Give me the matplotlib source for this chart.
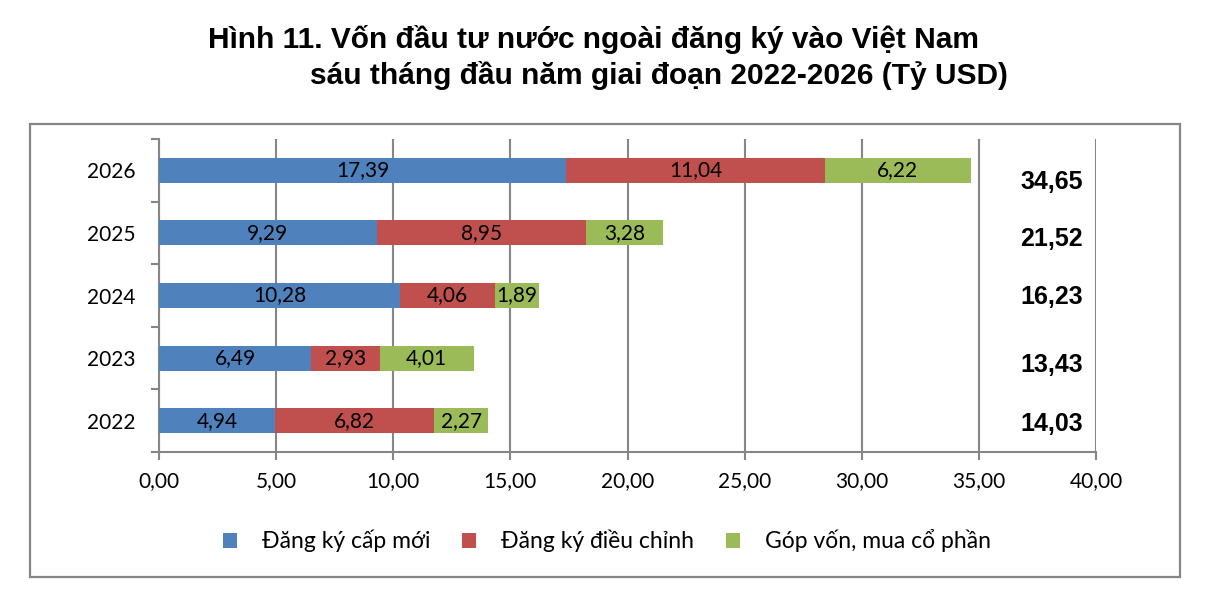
import matplotlib.pyplot as plt
from matplotlib.patches import Rectangle

# Data (Tỷ USD)
years = ['2022', '2023', '2024', '2025', '2026']
cap_moi = [4.94, 6.49, 10.28, 9.29, 17.39]
dieu_chinh = [6.82, 2.93, 4.06, 8.95, 11.04]
gop_von = [2.27, 4.01, 1.89, 3.28, 6.22]
series_names = ['Đăng ký cấp mới', 'Đăng ký điều chỉnh', 'Góp vốn, mua cổ phần']
x_ticks = [0, 5, 10, 15, 20, 25, 30, 35, 40]

colors = ['#4F81BD', '#C0504D', '#9BBB59']
# small downward shifts of the total labels (category units), as in the original
total_nudge = [0.06, 0.11, 0.02, 0.10, 0.19]

body_font = ['Lato', 'Noto Sans', 'DejaVu Sans']
bold_font = ['Liberation Sans', 'DejaVu Sans']
plt.rcParams['font.family'] = body_font


def fmt(v):
    return f'{v:.2f}'.replace('.', ',')


W, H = 1205, 591
fig = plt.figure(figsize=(W / 100, H / 100), dpi=100)
ax = fig.add_axes([159 / W, 1 - 452 / H, (1096 - 159) / W, (452 - 139) / H])

pos = list(range(len(years)))
left = [0.0] * len(years)
for vals, name, col in zip([cap_moi, dieu_chinh, gop_von], series_names, colors):
    bars = ax.barh(pos, vals, left=left, height=0.4, color=col, label=name, zorder=3)
    ax.bar_label(bars, labels=[fmt(v) for v in vals], label_type='center',
                 fontsize=15, color='black', zorder=4)
    left = [a + b for a, b in zip(left, vals)]

# totals on the right
for i, tot in enumerate(left):
    ax.text(38.1, pos[i] - total_nudge[i], fmt(tot), ha='center', va='center',
            fontsize=18, fontweight='bold', family=bold_font)

ax.set_xlim(0, 40)
ax.set_ylim(-0.5, len(years) - 0.5)
ax.set_xticks(x_ticks)
ax.set_xticklabels([fmt(t) for t in x_ticks], fontsize=15)
ax.set_yticks(pos)
ax.set_yticklabels(years, fontsize=15)
ax.set_yticks([p - 0.5 for p in pos] + [len(years) - 0.5], minor=True)

grid_col = '#868686'
ax.grid(axis='x', color=grid_col, linewidth=1.5, zorder=0)
for s in ['top', 'right']:
    ax.spines[s].set_visible(False)
for s in ['left', 'bottom']:
    ax.spines[s].set_color(grid_col)
    ax.spines[s].set_linewidth(1.5)
ax.tick_params(axis='y', which='major', length=0, pad=17)
ax.tick_params(axis='y', which='minor', length=6, width=1.5, color=grid_col)
ax.tick_params(axis='x', length=6, width=1.5, color=grid_col, pad=8)

# title
fig.text(208 / W, 1 - 40 / H, 'Hình 11. Vốn đầu tư nước ngoài đăng ký vào Việt Nam',
         ha='left', va='center', fontsize=21.5, fontweight='bold', family=bold_font)
fig.text(310 / W, 1 - 75 / H, 'sáu tháng đầu năm giai đoạn 2022-2026 (Tỷ USD)',
         ha='left', va='center', fontsize=21.5, fontweight='bold', family=bold_font)

# legend
fig.legend(loc='center', bbox_to_anchor=(607 / W, 1 - 541 / H), ncol=3, frameon=False,
           fontsize=16.5, handlelength=0.6, handleheight=0.6, handletextpad=1.1,
           columnspacing=1.4)

# chart frame
fig.add_artist(Rectangle((30 / W, 1 - 577 / H), (1180 - 30) / W, (577 - 124) / H,
                         transform=fig.transFigure, fill=False, edgecolor=grid_col,
                         linewidth=1.6))

fig.savefig('out.png', dpi=100)
